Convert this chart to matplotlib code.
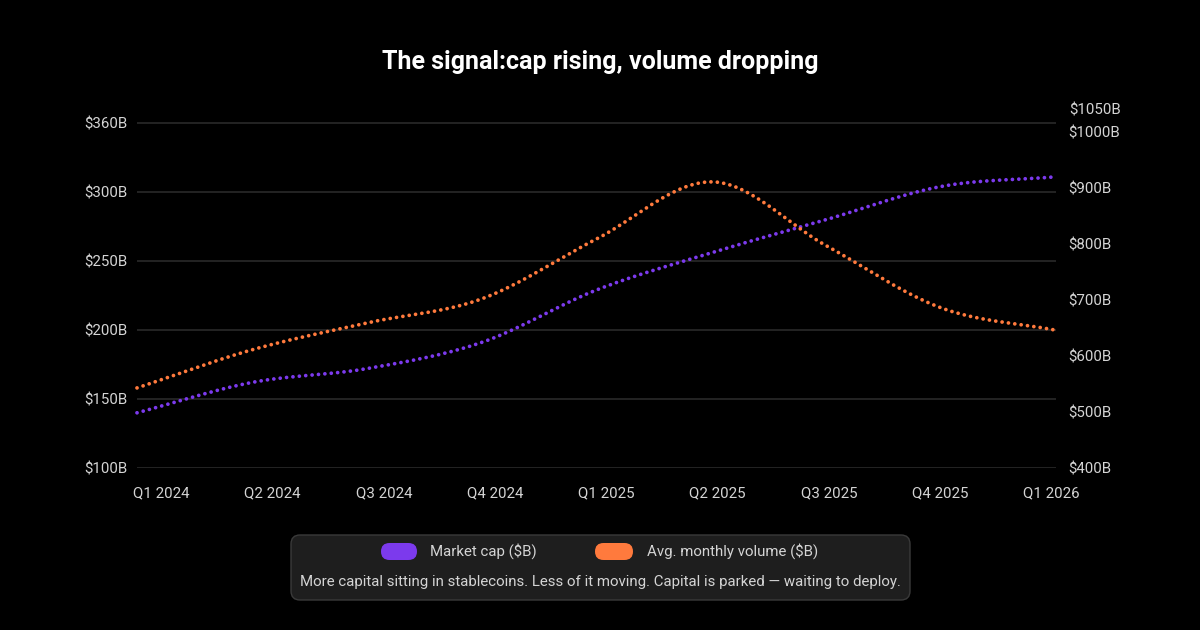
import numpy as np
import matplotlib
matplotlib.use("Agg")
import matplotlib.pyplot as plt
from matplotlib.patches import FancyBboxPatch

plt.rcParams['font.family'] = ['Roboto', 'DejaVu Sans']

# ---- data ----
quarters = ["Q1 2024", "Q2 2024", "Q3 2024", "Q4 2024", "Q1 2025",
            "Q2 2025", "Q3 2025", "Q4 2025", "Q1 2026"]
market_cap = [140, 162, 172, 191, 229, 256, 280, 304, 311]
volume = [543, 611, 659, 702, 809, 911, 797, 686, 646]
left_ticks = [100, 150, 200, 250, 300, 350]
left_tick_labels = ["$100B", "$150B", "$200B", "$250B", "$300B", "$360B"]
right_ticks = [400, 500, 600, 700, 800, 900, 1000]
right_tick_labels = ["$400B", "$500B", "$600B", "$700B", "$800B", "$900B", "$1000B"]
right_extra_label = "$1050B"

title = "The signal:cap rising, volume dropping"
caption = "More capital sitting in stablecoins. Less of it moving. Capital is parked \u2014 waiting to deploy."
series_names = ["Market cap ($B)", "Avg. monthly volume ($B)"]

PURPLE = "#7c3aed"
ORANGE = "#ff7a3d"
BG = "#000000"
GRID = "#2a2a2a"
TXT = "#d4d4d4"


def monotone_curve(x, y, n=60):
    x = np.asarray(x, float)
    y = np.asarray(y, float)
    dx = np.diff(x)
    d = np.diff(y) / dx
    m = np.zeros(len(x))
    m[0], m[-1] = d[0], d[-1]
    for i in range(1, len(x) - 1):
        m[i] = 0.0 if d[i - 1] * d[i] <= 0 else (d[i - 1] + d[i]) / 2
    for i in range(len(d)):
        if d[i] == 0:
            m[i] = m[i + 1] = 0
            continue
        a, b = m[i] / d[i], m[i + 1] / d[i]
        s = a * a + b * b
        if s > 9:
            t = 3 / np.sqrt(s)
            m[i] = t * a * d[i]
            m[i + 1] = t * b * d[i]
    xs, ys = [], []
    for i in range(len(d)):
        t = np.linspace(0, 1, n, endpoint=(i == len(d) - 1))
        h00 = 2 * t**3 - 3 * t**2 + 1
        h10 = t**3 - 2 * t**2 + t
        h01 = -2 * t**3 + 3 * t**2
        h11 = t**3 - t**2
        xs.append(x[i] + t * dx[i])
        ys.append(h00 * y[i] + h10 * dx[i] * m[i] + h01 * y[i + 1] + h11 * dx[i] * m[i + 1])
    return np.concatenate(xs), np.concatenate(ys)


fig = plt.figure(figsize=(12, 6.3), dpi=100, facecolor=BG)
ax = fig.add_axes([137 / 1200, 1 - 468 / 630, (1056 - 137) / 1200, (468 - 122) / 630])
ax.set_facecolor(BG)
ax2 = ax.twinx()

xi = np.arange(len(quarters))
ax.set_xlim(0, len(quarters) - 1)
ax.set_ylim(100, 100 + 346 / 1.38)
ax2.set_ylim(400, 400 + 346 / 0.56)

for a in (ax, ax2):
    for s in a.spines.values():
        s.set_visible(False)

FS = 10.8
ax.set_yticks(left_ticks)
ax.set_yticklabels(left_tick_labels)
ax.yaxis.grid(True, color=GRID, linewidth=1.2)
ax.xaxis.grid(False)
ax.set_axisbelow(True)
ax.tick_params(axis='y', length=0, pad=7, labelcolor=TXT, labelsize=FS)

ax2.set_yticks(right_ticks)
ax2.set_yticklabels(right_tick_labels)
ax2.tick_params(axis='y', length=0, pad=9, labelcolor=TXT, labelsize=FS)
fig.text(1069 / 1200, 1 - 110 / 630, right_extra_label, color=TXT, fontsize=FS,
         ha='left', va='center')

label_pos = 0.21 + 0.969 * xi
ax.set_xticks(label_pos)
ax.set_xticklabels(quarters)
ax.tick_params(axis='x', length=0, pad=13, labelcolor=TXT, labelsize=FS)

dots = (0, (0.01, 1.7))
cx, cy = monotone_curve(xi, market_cap)
ax.plot(cx, cy, color=PURPLE, lw=2.7, linestyle=dots, dash_capstyle='round', clip_on=False)
vx, vy = monotone_curve(xi, volume)
ax2.plot(vx, vy, color=ORANGE, lw=2.7, linestyle=dots, dash_capstyle='round', clip_on=False)

fig.text(0.5, 1 - 62 / 630, title, color='white', fontsize=18, fontweight='bold',
         ha='center', va='center')

# legend panel (pixel coordinates)
panel = FancyBboxPatch((291, 630 - 600), 619, 65, boxstyle="round,pad=0,rounding_size=9",
                       transform=None, facecolor="#1e1e1e", edgecolor="#3a3a3a", linewidth=1)
fig.patches.append(panel)
for (x0, x1), col, name, tx in [((381, 417), PURPLE, series_names[0], 430),
                                ((595, 633), ORANGE, series_names[1], 647)]:
    pill = FancyBboxPatch((x0, 630 - 560), x1 - x0, 17, boxstyle="round,pad=0,rounding_size=8.5",
                          transform=None, facecolor=col, edgecolor='none')
    fig.patches.append(pill)
    fig.text(tx / 1200, 1 - 551 / 630, name, color=TXT, fontsize=FS, ha='left', va='center')
fig.text(0.5, 1 - 582 / 630, caption, color=TXT, fontsize=FS, ha='center', va='center')

fig.savefig("out.png", dpi=100, facecolor=BG)
